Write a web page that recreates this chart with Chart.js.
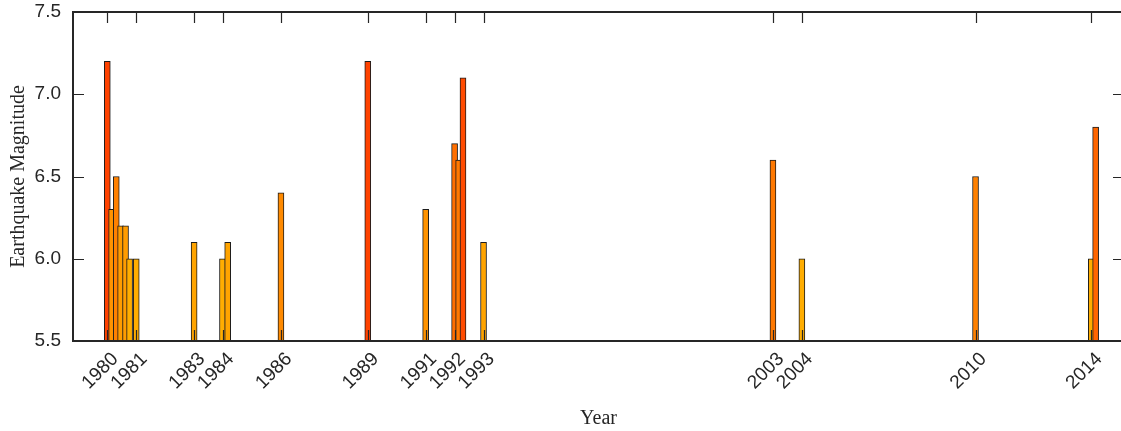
<!DOCTYPE html>
<html>
<head>
<meta charset="utf-8">
<script src="https://cdn.jsdelivr.net/npm/chart.js@4"></script>
<style>
  html, body { margin: 0; padding: 0; background: #fff; overflow: hidden; }
</style>
</head>
<body>
<canvas id="quakeChart" width="1124" height="431"></canvas>
<script>
// event times as decimal years, one magnitude per event
const eventYears = [1980.0, 1980.15, 1980.31, 1980.46, 1980.63, 1980.77, 1981.0,
                    1983.0, 1983.98, 1984.16, 1986.0, 1989.0, 1991.0,
                    1992.0, 1992.14, 1992.29, 1993.0, 2003.0, 2004.0, 2010.0,
                    2014.0, 2014.15];
const magnitudes = [7.2, 6.3, 6.5, 6.2, 6.2, 6.0, 6.0,
                    6.1, 6.0, 6.1, 6.4, 7.2, 6.3,
                    6.7, 6.6, 7.1, 6.1, 6.6, 6.0, 6.5,
                    6.0, 6.8];
const tickYears = [1980, 1981, 1983, 1984, 1986, 1989, 1991, 1992, 1993, 2003, 2004, 2010, 2014];
const magTicks = [5.5, 6.0, 6.5, 7.0, 7.5];

const axisColor = '#262626';

// orange -> red as magnitude grows
function magColor(m) {
    const g = Math.round(255 * (0.68 - (m - 6) * 0.35));
    return 'rgb(255,' + g + ',0)';
}

// box around the plot with inward tick marks on all four sides
const boxTicks = {
    id: 'boxTicks',
    afterDatasetsDraw(chart) {
        const { ctx, chartArea: a, scales: { x, y } } = chart;
        const len = 11;
        ctx.save();
        ctx.strokeStyle = axisColor;
        ctx.lineWidth = 1.2;
        ctx.beginPath();
        tickYears.forEach(v => {
            const px = Math.round(x.getPixelForValue(v)) + 0.5;
            ctx.moveTo(px, a.bottom);
            ctx.lineTo(px, a.bottom - len);
            ctx.moveTo(px, a.top);
            ctx.lineTo(px, a.top + len);
        });
        magTicks.forEach(v => {
            const py = Math.round(y.getPixelForValue(v)) + 0.5;
            ctx.moveTo(a.left, py);
            ctx.lineTo(a.left + len, py);
            ctx.moveTo(a.right, py);
            ctx.lineTo(a.right - len, py);
        });
        ctx.stroke();
        ctx.lineWidth = 2;
        ctx.strokeRect(Math.round(a.left), Math.round(a.top),
                       Math.round(a.right - a.left), Math.round(a.bottom - a.top));
        ctx.restore();
    }
};

const ctx = document.getElementById('quakeChart').getContext('2d');

new Chart(ctx, {
    type: 'bar',
    data: {
        datasets: [{
            data: eventYears.map((yr, i) => ({ x: yr, y: magnitudes[i] })),
            backgroundColor: magnitudes.map(magColor),
            borderColor: '#1c1c1c',
            borderWidth: 1,
            borderSkipped: false,
            barThickness: 6
        }]
    },
    options: {
        responsive: false,
        devicePixelRatio: 1,
        animation: false,
        layout: { padding: { top: 12, left: 0, right: 0, bottom: 0 } },
        plugins: {
            legend: { display: false },
            tooltip: { enabled: false }
        },
        scales: {
            x: {
                type: 'linear',
                min: 1978.815,
                max: 2015.13,
                offset: false,
                grid: { display: false, drawTicks: false },
                border: { display: false },
                afterBuildTicks: scale => {
                    scale.ticks = tickYears.map(v => ({ value: v }));
                },
                afterFit: scale => {
                    scale.height = 90;
                    scale.paddingLeft = 0;
                    scale.paddingRight = 0;
                },
                ticks: {
                    autoSkip: false,
                    minRotation: 45,
                    maxRotation: 45,
                    padding: 7,
                    labelOffset: 8,
                    color: axisColor,
                    font: { family: 'Liberation Sans', size: 19 },
                    callback: v => String(v)
                },
                title: {
                    display: true,
                    text: 'Year',
                    color: axisColor,
                    padding: { top: 0, bottom: 0 },
                    font: { family: 'Liberation Serif', size: 20, lineHeight: 1.2 }
                }
            },
            y: {
                min: 5.5,
                max: 7.5,
                grid: { display: false, drawTicks: false },
                border: { display: false },
                afterBuildTicks: scale => {
                    scale.ticks = magTicks.map(v => ({ value: v }));
                },
                afterFit: scale => {
                    scale.width = 73;
                    scale.paddingTop = 0;
                    scale.paddingBottom = 0;
                },
                ticks: {
                    padding: 12,
                    color: axisColor,
                    font: { family: 'Liberation Sans', size: 19 },
                    callback: v => v.toFixed(1)
                },
                title: {
                    display: true,
                    text: 'Earthquake Magnitude',
                    color: axisColor,
                    padding: { top: 7, bottom: 5 },
                    font: { family: 'Liberation Serif', size: 20, lineHeight: 1.2 }
                }
            }
        }
    },
    plugins: [boxTicks]
});
</script>
</body>
</html>
